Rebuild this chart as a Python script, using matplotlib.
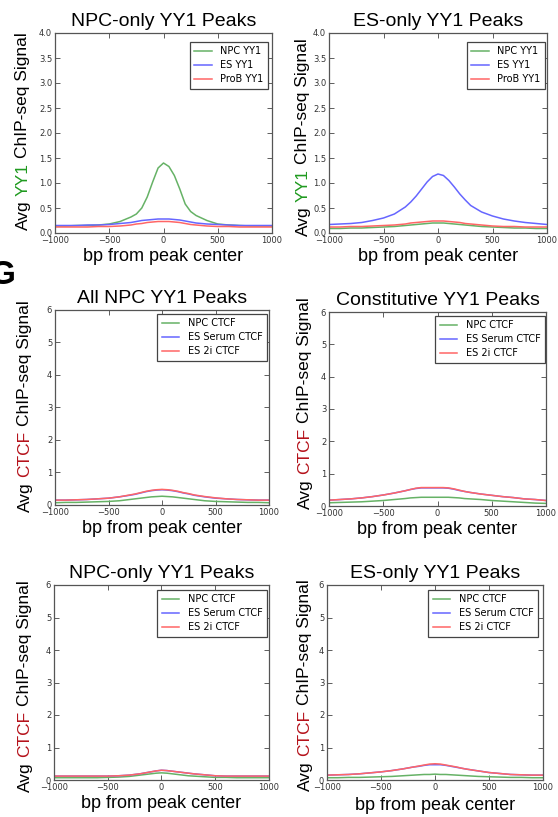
import matplotlib
matplotlib.use("Agg")
import matplotlib.pyplot as plt
import numpy as np

W, H = 558, 817
DPI = 100

# ---------------- data ----------------
bp = [-1000, -900, -800, -700, -600, -500, -400, -300, -250, -200, -150, -100, -50, 0,
      50, 100, 150, 200, 250, 300, 400, 500, 600, 700, 800, 900, 1000]

yy1_labels = ["NPC YY1", "ES YY1", "ProB YY1"]
ctcf_labels = ["NPC CTCF", "ES Serum CTCF", "ES 2i CTCF"]

# Panel 1: NPC-only YY1 peaks (YY1 signal)
p1_npc = [.14, .14, .15, .15, .16, .18, .23, .32, .38, .50, .72, 1.02, 1.30, 1.40,
          1.33, 1.15, .88, .58, .43, .35, .25, .18, .16, .15, .14, .14, .14]
p1_es = [.15, .15, .15, .16, .16, .17, .19, .21, .23, .25, .26, .27, .28, .28,
         .28, .27, .26, .24, .22, .20, .18, .17, .16, .15, .15, .15, .15]
p1_prob = [.12, .12, .12, .12, .13, .13, .14, .16, .18, .19, .21, .22, .23, .23,
           .23, .22, .21, .19, .17, .16, .14, .13, .13, .12, .12, .12, .12]

# Panel 2: ES-only YY1 peaks (YY1 signal)
p2_npc = [.09, .09, .10, .10, .11, .12, .13, .15, .16, .17, .18, .19, .20, .20,
          .20, .19, .18, .17, .16, .15, .13, .12, .11, .10, .10, .09, .09]
p2_es = [.17, .18, .19, .21, .25, .30, .38, .52, .62, .74, .88, 1.02, 1.13, 1.18,
         1.15, 1.05, .92, .78, .66, .55, .42, .34, .28, .24, .21, .19, .17]
p2_prob = [.12, .12, .13, .13, .14, .15, .16, .18, .20, .21, .22, .23, .24, .24,
           .24, .23, .22, .21, .19, .18, .16, .14, .13, .13, .12, .12, .12]

# Panel 3: All NPC YY1 peaks (CTCF signal)
p3_npc = [.07, .08, .08, .09, .10, .11, .13, .17, .19, .21, .23, .25, .26, .27,
          .26, .25, .23, .21, .19, .17, .13, .11, .10, .09, .08, .08, .07]
p3_serum = [.15, .15, .16, .17, .19, .21, .25, .30, .33, .37, .41, .44, .46, .47,
            .46, .44, .41, .37, .34, .30, .25, .21, .19, .17, .16, .15, .15]
p3_2i = [.15, .15, .16, .17, .19, .21, .25, .31, .34, .38, .42, .45, .47, .48,
         .47, .45, .42, .38, .35, .31, .26, .22, .19, .17, .16, .15, .15]

# Panel 4: Constitutive YY1 peaks (CTCF signal)
p4_npc = [.10, .11, .12, .13, .15, .17, .20, .23, .25, .26, .27, .27, .27, .27,
          .27, .27, .26, .25, .23, .22, .20, .17, .15, .13, .11, .09, .08]
p4_serum = [.18, .20, .22, .25, .29, .34, .40, .47, .51, .54, .56, .56, .56, .56,
            .56, .55, .52, .48, .45, .42, .37, .33, .29, .26, .22, .20, .17]
p4_2i = [.18, .20, .22, .25, .29, .34, .40, .47, .51, .55, .57, .57, .57, .57,
         .57, .56, .53, .49, .45, .42, .37, .33, .29, .26, .22, .20, .17]

# Panel 5: NPC-only YY1 peaks (CTCF signal)
p5_npc = [.07, .07, .07, .07, .07, .08, .09, .11, .13, .15, .17, .19, .21, .22,
          .21, .19, .17, .15, .13, .12, .10, .08, .08, .07, .07, .07, .07]
p5_serum = [.12, .12, .12, .12, .12, .12, .13, .15, .17, .19, .22, .25, .28, .30,
            .29, .27, .25, .23, .21, .19, .16, .13, .12, .12, .12, .12, .12]
p5_2i = [.12, .12, .12, .12, .12, .12, .13, .15, .17, .19, .22, .25, .28, .30,
         .29, .27, .25, .23, .21, .19, .16, .13, .12, .12, .12, .12, .12]

# Panel 6: ES-only YY1 peaks (CTCF signal)
p6_npc = [.07, .07, .08, .08, .09, .10, .11, .13, .14, .15, .16, .17, .17, .18,
          .17, .17, .16, .15, .14, .13, .11, .10, .09, .08, .08, .07, .07]
p6_serum = [.15, .16, .17, .19, .22, .25, .29, .34, .37, .40, .42, .45, .47, .47,
            .47, .45, .42, .39, .36, .33, .28, .23, .20, .17, .16, .15, .15]
p6_2i = [.15, .16, .17, .19, .22, .25, .29, .34, .37, .40, .43, .46, .49, .50,
         .49, .46, .43, .40, .36, .33, .28, .23, .20, .17, .16, .15, .15]

titles = ["NPC-only YY1 Peaks", "ES-only YY1 Peaks", "All NPC YY1 Peaks",
          "Constitutive YY1 Peaks", "NPC-only YY1 Peaks", "ES-only YY1 Peaks"]
xticks = [-1000, -500, 0, 500, 1000]
yy1_yticks = [0.0, 0.5, 1.0, 1.5, 2.0, 2.5, 3.0, 3.5, 4.0]
ctcf_yticks = [0, 1, 2, 3, 4, 5, 6]

# ---------------- style ----------------
LINE_COLORS = ["#66b266", "#6666ff", "#ff6666"]
YY1_COLOR = "#1f9a1f"
CTCF_COLOR = "#b5121b"
TITLE_FONT = "Liberation Sans"
TICK_FONT = "DejaVu Sans"

fig = plt.figure(figsize=(W / DPI, H / DPI), dpi=DPI)
fig.patch.set_facecolor("white")

# axes boxes in pixels: left, right, top, bottom
boxes = [
    (55, 272, 33, 233),
    (329, 547, 33, 233),
    (55, 269, 310, 505),
    (329, 546, 312, 506),
    (54, 269, 585, 780),
    (327, 543, 585, 780),
]
# legend boxes in pixels: right, top
leg_pos = [
    (268, 42), (545, 42), (267, 314), (545, 316), (267, 590), (538, 590)
]
# y-label centres in pixels (x, y)
ylab_pos = [(23, 131), (303, 137), (25, 406), (305, 403), (25, 686), (305, 685)]
# x-label offsets (labelpad, points)
xlab_pad = [2, 2, 2, 2, 2, 4]

panels = [
    ([p1_npc, p1_es, p1_prob], yy1_labels, "YY1"),
    ([p2_npc, p2_es, p2_prob], yy1_labels, "YY1"),
    ([p3_npc, p3_serum, p3_2i], ctcf_labels, "CTCF"),
    ([p4_npc, p4_serum, p4_2i], ctcf_labels, "CTCF"),
    ([p5_npc, p5_serum, p5_2i], ctcf_labels, "CTCF"),
    ([p6_npc, p6_serum, p6_2i], ctcf_labels, "CTCF"),
]

renderer = fig.canvas.get_renderer()


def text_width_px(s, size, family):
    t = fig.text(0, 0, s, fontsize=size, family=family)
    w = t.get_window_extent(renderer=renderer).width
    t.remove()
    return w


def colored_vertical_label(x_px, y_center_px, pieces, size, family):
    """pieces: list of (text, color); drawn upward, centred on y_center_px."""
    space = text_width_px("a a", size, family) - text_width_px("aa", size, family)
    widths = [text_width_px(s, size, family) for s, _ in pieces]
    total = sum(widths) + space * (len(pieces) - 1)
    y = y_center_px + total / 2
    for (s, c), w in zip(pieces, widths):
        fig.text(x_px / W, 1 - y / H, s, rotation=90, rotation_mode="anchor",
                 ha="left", va="center", fontsize=size, family=family, color=c)
        y -= w + space


for i, (ax_box, (series, labels, key)) in enumerate(zip(boxes, panels)):
    l, r, t, b = ax_box
    ax = fig.add_axes([l / W, 1 - b / H, (r - l) / W, (b - t) / H])
    for vals, lab, col in zip(series, labels, LINE_COLORS):
        ax.plot(bp, vals, color=col, lw=1.1, label=lab)
    ax.set_xlim(-1000, 1000)
    ax.set_xticks(xticks)
    if key == "YY1":
        ax.set_ylim(0, 4)
        ax.set_yticks(yy1_yticks)
        ax.set_yticklabels(["%.1f" % v for v in yy1_yticks])
    else:
        ax.set_ylim(0, 6)
        ax.set_yticks(ctcf_yticks)
    ax.tick_params(direction="in", top=True, right=True, length=3.5, width=0.6,
                   labelsize=6, labelcolor="#333333", color="#444444", pad=2)
    for lab in ax.get_xticklabels() + ax.get_yticklabels():
        lab.set_family(TICK_FONT)
    for sp in ax.spines.values():
        sp.set_color("#555555")
        sp.set_linewidth(0.9)
    ax.set_title(titles[i], fontsize=14, family=TITLE_FONT, pad=5)
    ax.set_xlabel("bp from peak center", fontsize=13, family=TITLE_FONT,
                  labelpad=xlab_pad[i])

    lr, lt = leg_pos[i]
    ax_x = (lr - l) / (r - l)
    ax_y = (b - lt) / (b - t)
    leg = ax.legend(loc="upper right", bbox_to_anchor=(ax_x, ax_y), borderaxespad=0,
                    prop={"family": TICK_FONT, "size": 7}, handlelength=1.8,
                    handletextpad=0.9, labelspacing=0.4, borderpad=0.45,
                    fancybox=False, framealpha=1)
    leg.get_frame().set_edgecolor("#444444")
    leg.get_frame().set_linewidth(0.9)

    # y label (multi colored)
    key_color = YY1_COLOR if key == "YY1" else CTCF_COLOR
    yx, yy = ylab_pos[i]
    colored_vertical_label(yx, yy,
                           [("Avg", "black"), (key, key_color), ("ChIP-seq Signal", "black")],
                           12.5, TITLE_FONT)

# panel letter (partly cut at the left edge, as in the source)
fig.text(-10 / W, 1 - 284 / H, "G", fontsize=24, fontweight="bold", family=TITLE_FONT)

fig.savefig("out.png", dpi=DPI, facecolor="white")
